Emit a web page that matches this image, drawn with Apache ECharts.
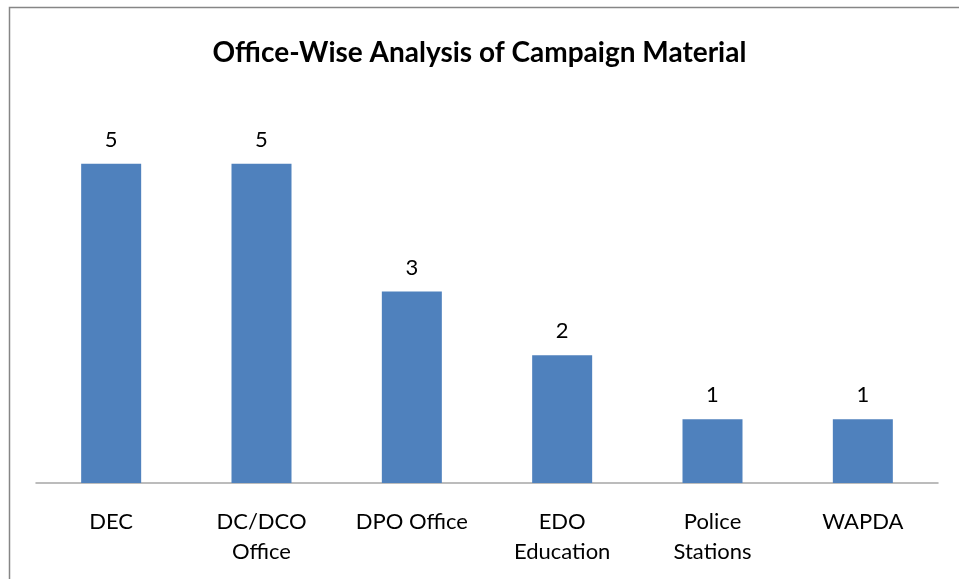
<!DOCTYPE html>
<html>
<head>
<meta charset="utf-8">
<script src="https://cdn.jsdelivr.net/npm/echarts@6/dist/echarts.min.js"></script>
<style>
html,body{margin:0;padding:0;background:#fff;}
#chart{width:959px;height:579px;}
</style>
</head>
<body>
<div id="chart"></div>
<script>
var titleText = 'Office-Wise Analysis of Campaign Material';
var categories = ['DEC', 'DC/DCO\nOffice', 'DPO Office', 'EDO\nEducation', 'Police\nStations', 'WAPDA'];
var values = [5, 5, 3, 2, 1, 1];

var FONT = 'Lato, "Open Sans", sans-serif';
var chart = echarts.init(document.getElementById('chart'), null, {renderer: 'canvas'});
chart.setOption({
  backgroundColor: '#ffffff',
  animation: false,
  title: {
    text: titleText,
    left: 'center',
    top: 34,
    textStyle: {fontFamily: FONT, fontWeight: 'bold', fontSize: 28, color: '#000'}
  },
  graphic: [{
    type: 'rect',
    shape: {x: 9.5, y: 7.5, width: 1200, height: 1200},
    style: {fill: 'none', stroke: '#868686', lineWidth: 1.5},
    silent: true
  }],
  grid: {left: 36, right: 21, top: 100, bottom: 96, containLabel: false},
  xAxis: {
    type: 'category',
    data: categories,
    axisLine: {lineStyle: {color: '#a6a6a6', width: 1.5}},
    axisTick: {show: false},
    axisLabel: {fontFamily: FONT, fontSize: 22, color: '#000', margin: 24, lineHeight: 30, interval: 0}
  },
  yAxis: {
    type: 'value',
    min: 0, max: 6, interval: 1,
    show: false,
    splitLine: {show: false}
  },
  series: [{
    type: 'bar',
    data: values,
    barWidth: 60,
    itemStyle: {color: '#4f81bd'},
    label: {show: true, position: 'top', distance: 13, fontFamily: FONT, fontSize: 22, color: '#000'}
  }]
});
</script>
</body>
</html>
